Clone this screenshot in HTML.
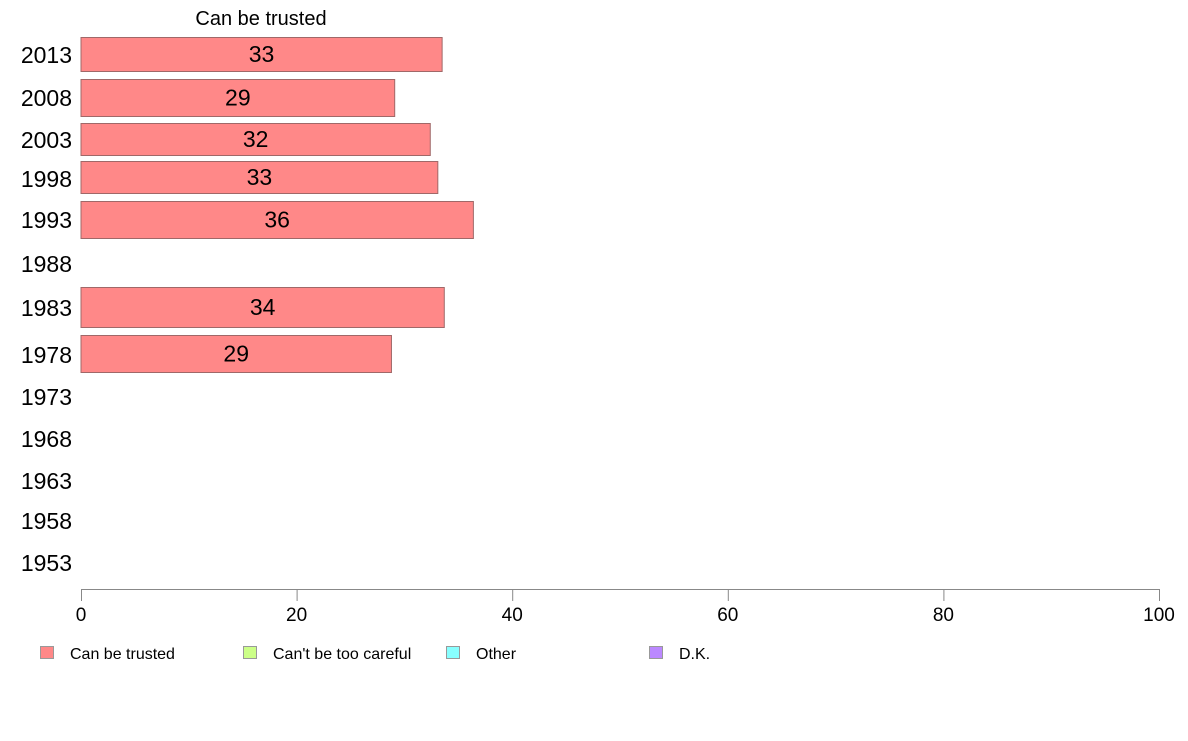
<!DOCTYPE html>
<html><head><meta charset="utf-8"><style>
body{margin:0;background:#fff;font-family:"Liberation Sans",Arial,sans-serif}
</style></head><body>
<svg id="chart" width="1188" height="736" xmlns="http://www.w3.org/2000/svg" font-family="Liberation Sans, Arial, sans-serif">
<rect width="1188" height="736" fill="#fff"/>
<text x="261" y="25" font-size="20" text-anchor="middle">Can be trusted</text>
<g id="bars"></g>
<g id="axis"></g>
<g id="legend"></g>
</svg>
<script>
const years = ["2013","2008","2003","1998","1993","1988","1983","1978","1973","1968","1963","1958","1953"];
const values = [33.5, 29.1, 32.4, 33.1, 36.4, null, 33.7, 28.8, null, null, null, null, null];
const printed = ["33","29","32","33","36","","34","29","","","","",""];
const ticks = [0,20,40,60,80,100];
const legendLabels = ["Can be trusted","Can't be too careful","Other","D.K."];
const legendColors = ["#ff8888","#ccff88","#88ffff","#bb88ff"];
// layout (row bands, pixels)
const rowTop = [37,79,123,161,201,245,287,335,378,420,462,502,544];
const rowH = [34,37,32,32,37,37,40,37,37,37,37,37,37];
const labelY = [55,98,140,179,220,264,308,355,397,439,481,521,563];
const NS="http://www.w3.org/2000/svg";
const x = v => 81 + v*(1159-81)/100;
function mk(t,a,p){const e=document.createElementNS(NS,t);for(const k in a)e.setAttribute(k,a[k]);p.appendChild(e);return e;}
const bars=document.getElementById('bars');
years.forEach((y,i)=>{
  const t=mk('text',{x:72,y:labelY[i]+8,'font-size':23,'text-anchor':'end'},bars);
  
  
  t.textContent=y;
  if(values[i]!=null){
    const r=mk('rect',{x:x(0),y:rowTop[i]+0.5,width:x(values[i])-x(0),height:rowH[i],fill:'#ff8888',stroke:'#a06868','stroke-width':1},bars);
    
    
    const v=mk('text',{x:(x(0)+x(values[i]))/2,y:rowTop[i]+rowH[i]/2+8,'font-size':23,'text-anchor':'middle'},bars);
    
    
    v.textContent=printed[i];
  }
});
const ax=document.getElementById('axis');
const al=mk('line',{x1:x(0),x2:x(100),y1:589.5,y2:589.5,stroke:'#888','stroke-width':1},ax);


ticks.forEach(tv=>{
  const l=mk('line',{x1:x(tv)+0.5,x2:x(tv)+0.5,y1:589,y2:601,stroke:'#888','stroke-width':1},ax);
  
  
  const t=mk('text',{x:x(tv),y:621,'font-size':19,'text-anchor':'middle'},ax);
  
  
  t.textContent=tv;
});
const lg=document.getElementById('legend');
const lx=[40,243,446,649];
legendLabels.forEach((s,i)=>{
  const r=mk('rect',{x:lx[i]+0.5,y:646.5,width:13,height:12,fill:legendColors[i],stroke:'#999','stroke-width':1},lg);
  
  
  const t=mk('text',{x:lx[i]+30,y:659,'font-size':16},lg);
  
  
  t.textContent=s;
});
</script>
</body></html>
